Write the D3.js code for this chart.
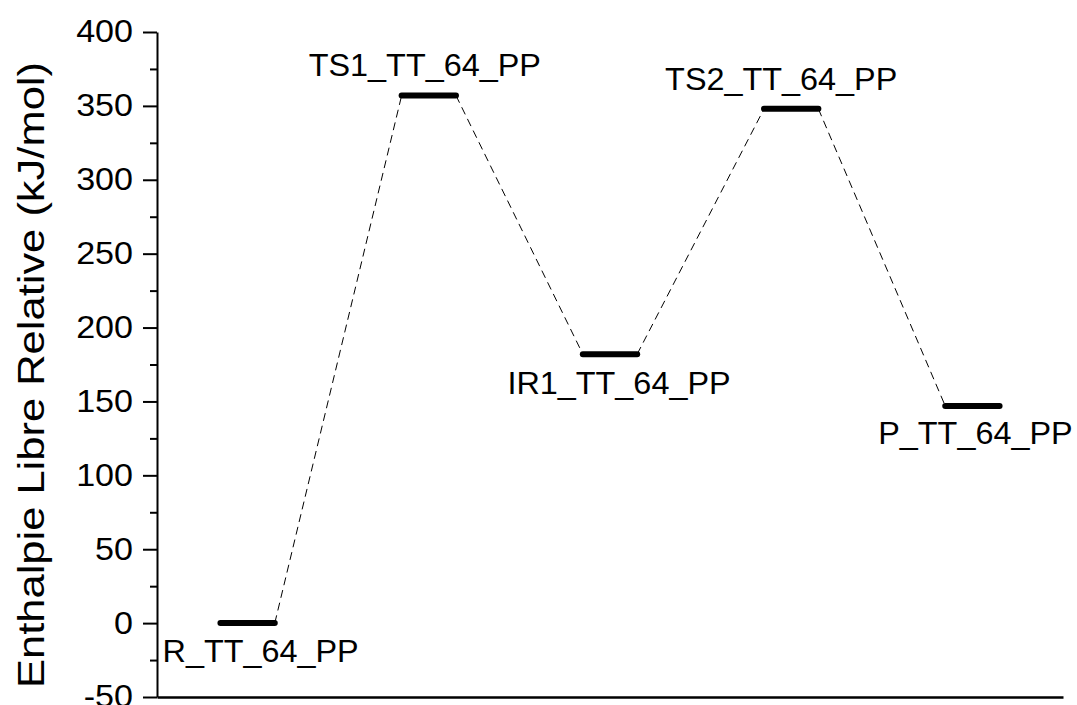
<!DOCTYPE html>
<html>
<head>
<meta charset="utf-8">
<script src="https://cdnjs.cloudflare.com/ajax/libs/d3/7.8.5/d3.min.js"></script>
<style>
  body { margin: 0; background: #fff; }
  svg text { font-family: "Liberation Sans", Arial, sans-serif; fill: #000; }
</style>
</head>
<body>
<div id="chart"></div>
<script>
// reaction path data
var states = ["R_TT_64_PP", "TS1_TT_64_PP", "IR1_TT_64_PP", "TS2_TT_64_PP", "P_TT_64_PP"];
var enthalpies = [0, 357, 182, 348, 147];
var yTicks = [-50, 0, 50, 100, 150, 200, 250, 300, 350, 400];
var yMinorTicks = [-25, 25, 75, 125, 175, 225, 275, 325, 375];

var svgWidth = 1077;
var svgHeight = 705;

var margin = { top: 32, right: 14, bottom: 8, left: 157 };
var width = svgWidth - margin.left - margin.right;
var height = svgHeight - margin.top - margin.bottom;

// label nudges (px) relative to each level: [dx, dy]
var labelOffsets = [[13, 39], [-4, -20], [9, 40], [-10, -19], [3, 38]];
var stretch = 1.08; // text in the source looks a bit wide

var svg = d3.select("#chart")
  .append("svg")
  .attr("width", svgWidth)
  .attr("height", svgHeight);

var chartGroup = svg.append("g")
  .attr("transform", `translate(${margin.left}, ${margin.top})`);

var xScale = d3.scaleLinear()
  .domain([0.5, states.length + 0.5])
  .range([0, width]);

var yScale = d3.scaleLinear()
  .domain([-50, 400])
  .range([height, 0]);

var halfBar = 0.15;

// minor ticks
chartGroup.append("g")
  .call(d3.axisLeft(yScale).tickValues(yMinorTicks).tickSize(7).tickFormat(""))
  .call(g => g.select(".domain").remove())
  .selectAll("line").attr("stroke-width", 2);

// left axis
var leftAxis = chartGroup.append("g")
  .call(d3.axisLeft(yScale).tickValues(yTicks).tickSize(14).tickSizeOuter(0)
    .tickPadding(10).tickFormat(d => String(d)));
leftAxis.select(".domain").attr("stroke-width", 2);
leftAxis.selectAll(".tick line").attr("stroke-width", 2);
leftAxis.selectAll(".tick text")
  .attr("font-size", "31px")
  .attr("font-family", "Liberation Sans, Arial, sans-serif")
  .attr("x", -24 / 1.1)
  .attr("transform", "scale(1.1,1)");

// bottom axis (no ticks)
chartGroup.append("g")
  .attr("transform", `translate(0, ${height})`)
  .call(d3.axisBottom(xScale).tickValues([]).tickSizeOuter(0))
  .select(".domain").attr("stroke-width", 2.5);

// dashed connectors
var links = d3.range(states.length - 1);
chartGroup.selectAll(".link")
  .data(links)
  .enter()
  .append("line")
  .attr("class", "link")
  .attr("x1", i => xScale(i + 1 + halfBar))
  .attr("y1", i => yScale(enthalpies[i]))
  .attr("x2", i => xScale(i + 2 - halfBar))
  .attr("y2", i => yScale(enthalpies[i + 1]))
  .attr("stroke", "#000")
  .attr("stroke-width", 1)
  .attr("stroke-dasharray", "8,5");

// energy levels
chartGroup.selectAll(".level")
  .data(states)
  .enter()
  .append("line")
  .attr("class", "level")
  .attr("x1", (d, i) => xScale(i + 1 - halfBar))
  .attr("x2", (d, i) => xScale(i + 1 + halfBar))
  .attr("y1", (d, i) => yScale(enthalpies[i]))
  .attr("y2", (d, i) => yScale(enthalpies[i]))
  .attr("stroke", "#000")
  .attr("stroke-width", 6)
  .attr("stroke-linecap", "round");

// state labels
chartGroup.selectAll(".state-label")
  .data(states)
  .enter()
  .append("g")
  .attr("class", "state-label")
  .attr("transform", (d, i) =>
    `translate(${xScale(i + 1) + labelOffsets[i][0]}, ${yScale(enthalpies[i]) + labelOffsets[i][1]}) scale(1.045,1)`)
  .append("text")
  .attr("text-anchor", "middle")
  .attr("font-size", "31px")
  .text(d => d);

// y axis title
svg.append("text")
  .attr("transform", "rotate(-90)")
  .attr("x", -375)
  .attr("y", 44)
  .attr("text-anchor", "middle")
  .attr("font-size", "37px")
  .attr("textLength", 626)
  .attr("lengthAdjust", "spacingAndGlyphs")
  .text("Enthalpie Libre Relative (kJ/mol)");
</script>
</body>
</html>
